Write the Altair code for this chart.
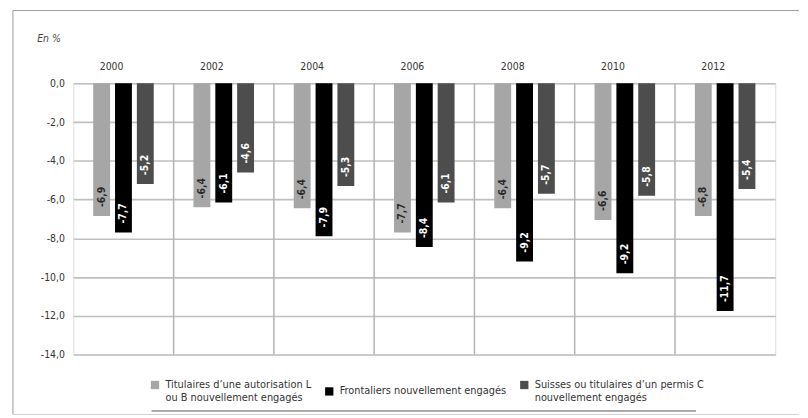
import altair as alt
import pandas as pd

years = ["2000", "2002", "2004", "2006", "2008", "2010", "2012"]
series = [
    "Titulaires d’une autorisation L|ou B nouvellement engagés",
    "Frontaliers nouvellement engagés",
    "Suisses ou titulaires d’un permis C|nouvellement engagés",
]
# bar lengths as drawn
val_lb = [-6.85, -6.4, -6.45, -7.7, -6.45, -7.05, -6.85]
val_fr = [-7.7, -6.15, -7.9, -8.45, -9.2, -9.8, -11.75]
val_ch = [-5.2, -4.6, -5.3, -6.15, -5.7, -5.8, -5.45]
# printed labels
lab_lb = ["-6,9", "-6,4", "-6,4", "-7,7", "-6,4", "-6,6", "-6,8"]
lab_fr = ["-7,7", "-6,1", "-7,9", "-8,4", "-9,2", "-9,2", "-11,7"]
lab_ch = ["-5,2", "-4,6", "-5,3", "-6,1", "-5,7", "-5,8", "-5,4"]
y_ticks = [0, -2, -4, -6, -8, -10, -12, -14]

rows = []
for k, (vals, labs) in enumerate([(val_lb, lab_lb), (val_fr, lab_fr), (val_ch, lab_ch)]):
    for y, v, l in zip(years, vals, labs):
        rows.append({"year": y, "series": series[k], "k": k, "value": v, "label": l})
df = pd.DataFrame(rows)
sep = pd.DataFrame({"year": years[1:]})
one = pd.DataFrame({"a": [0]})

FONT = "DejaVu Sans Condensed, Liberation Sans Narrow, Roboto Condensed, Roboto, sans-serif"
W, H = 709, 274

x = alt.X("year:N", title=None, sort=years,
          scale=alt.Scale(paddingInner=0, paddingOuter=0),
          axis=alt.Axis(orient="top", labelAngle=0, ticks=False, domain=False,
                        grid=False, labelPadding=17, labelFontSize=10.5,
                        labelColor="#333", labelFont=FONT))
xo = alt.XOffset("series:N", sort=series,
                 scale=alt.Scale(paddingInner=0.227, paddingOuter=0.91))
y = alt.Y("value:Q",
          scale=alt.Scale(domain=[-14, 0], nice=False),
          axis=alt.Axis(values=y_ticks, tickCount=20, labelOverlap=False,
                        labelExpr="replace(replace(format(datum.value, '.1f'), '.', ','), '−', '-')",
                        grid=True, gridColor="#bfbfbf", gridWidth=1.6,
                        domain=False, ticks=False, tickSize=0, labelPadding=9,
                        labelFontSize=10.5, labelColor="#333", labelFont=FONT,
                        title="En %", titleAngle=0, titleAlign="left",
                        titleBaseline="middle", titleX=-37, titleY=-45,
                        titleFontStyle="italic", titleFontWeight="normal",
                        titleFontSize=10.5, titleColor="#444", titleFont=FONT))

color = alt.Color("series:N", sort=series,
                  scale=alt.Scale(domain=series, range=["#a6a6a6", "#000000", "#4d4d4d"]),
                  legend=alt.Legend(title=None, orient="none", legendX=77, legendY=299,
                                    direction="horizontal", columns=3,
                                    symbolType="square", symbolSize=70,
                                    symbolStrokeWidth=0, labelFontSize=11,
                                    labelFont=FONT, labelColor="#333",
                                    labelLimit=400, labelOffset=5,
                                    columnPadding=12,
                                    labelExpr="split(datum.label, '|')"))

bars = alt.Chart(df).mark_bar().encode(x=x, xOffset=xo, y=y, color=color)

texts = alt.Chart(df).mark_text(angle=270, align="left", baseline="middle", dx=9,
                                fontSize=10.5, fontWeight="bold", font=FONT).encode(
    x=alt.X("year:N", sort=years),
    xOffset=alt.XOffset("series:N", sort=series),
    y="value:Q",
    text="label:N",
    color=alt.condition(alt.datum.k == 0, alt.value("#2a2a2a"), alt.value("#ffffff")),
)

seps = alt.Chart(sep).mark_rule(color="#b3b3b3", strokeWidth=1.5).encode(
    x=alt.X("year:N", bandPosition=0, sort=years),
    y=alt.value(0), y2=alt.value(H),
)

frame_top = alt.Chart(one).mark_rule(color="#9a9a9a", strokeWidth=1).encode(
    x=alt.value(-61), x2=alt.value(733), y=alt.value(-73.5))
frame_left = alt.Chart(one).mark_rule(color="#9a9a9a", strokeWidth=1).encode(
    x=alt.value(-61), y=alt.value(-73.5), y2=alt.value(334.5))
frame_bottom = alt.Chart(one).mark_rule(color="#d0d0d0", strokeWidth=1).encode(
    x=alt.value(-61), x2=alt.value(733), y=alt.value(334.5))
legend_line = alt.Chart(one).mark_rule(color="#555555", strokeWidth=1).encode(
    x=alt.value(79), x2=alt.value(629), y=alt.value(331))

chart = alt.layer(seps, bars, texts, frame_top, frame_left, frame_bottom, legend_line).properties(
    width=W, height=H,
    padding={"left": 4, "top": 0, "right": 0, "bottom": 0},
).configure_view(strokeWidth=0).configure(font=FONT)

chart.save("out.html", embed_options={"renderer": "svg", "actions": False})
